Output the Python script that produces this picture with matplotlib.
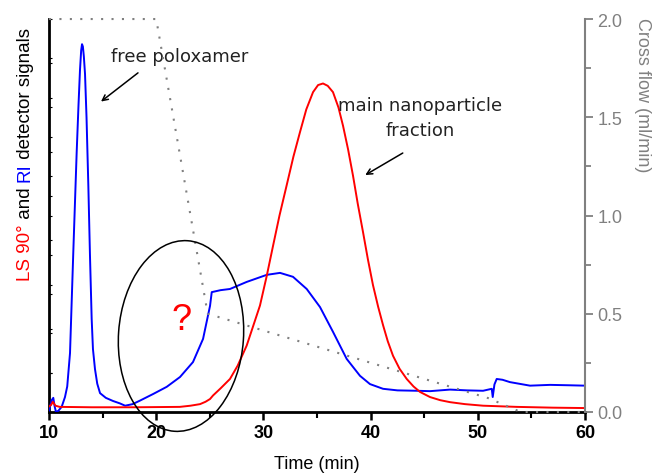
import matplotlib
matplotlib.use("Agg")
import matplotlib.pyplot as plt
from matplotlib.patches import Ellipse
from matplotlib.ticker import MultipleLocator, FixedLocator
import numpy as np

# RI signal (blue), arbitrary units
ri_t = [10.0, 10.09, 10.25, 10.40, 10.52, 10.65, 10.87, 11.18, 11.49, 11.70, 11.96, 12.27, 12.58,
        12.75, 12.89, 13.0, 13.08, 13.16, 13.25, 13.36, 13.5, 13.67, 13.82, 13.98, 14.1, 14.29,
        14.5, 14.76, 15.3, 15.97, 16.6, 17.1, 17.8, 18.49, 19.73, 20.98, 22.22, 23.43, 24.37,
        25.02, 25.18, 26.0, 26.88, 28.44, 30.31, 31.55, 32.76, 34.04, 35.28, 36.49, 37.77, 39.01,
        39.94, 41.16, 42.5, 44.30, 45.54, 47.41, 49.0, 50.49, 51.30, 51.39, 51.55, 51.76, 52.3,
        53.0, 54.87, 56.74, 58.5, 60.0]
ri_v = [0.004, 0.013, 0.030, 0.036, 0.015, 0.0, 0.003, 0.013, 0.038, 0.065, 0.15, 0.41, 0.66,
        0.78, 0.87, 0.92, 0.936, 0.93, 0.905, 0.86, 0.75, 0.575, 0.40, 0.237, 0.16, 0.109,
        0.072, 0.048, 0.036, 0.028, 0.022, 0.016, 0.020, 0.029, 0.046, 0.064, 0.089, 0.127, 0.186,
        0.270, 0.305, 0.310, 0.313, 0.331, 0.349, 0.354, 0.344, 0.313, 0.267, 0.204, 0.135, 0.092,
        0.071, 0.059, 0.055, 0.054, 0.053, 0.057, 0.055, 0.054, 0.059, 0.038, 0.070, 0.084, 0.082,
        0.076, 0.067, 0.069, 0.068, 0.067]

# LS 90 signal (red), arbitrary units
ls_t = [10.0, 10.2, 10.35, 10.6, 11.0, 14.0, 18.0, 22.2, 23.2, 24.09, 24.6, 25.02, 25.30, 26.0,
        26.88, 27.6, 28.44, 29.0, 29.68, 30.30, 30.90, 31.5, 32.17, 32.8, 33.41, 34.0, 34.63, 35.1,
        35.56, 36.0, 36.49, 37.0, 37.43, 37.9, 38.36, 38.8, 39.29, 39.75, 40.22, 40.7, 41.16, 41.6,
        42.09, 42.7, 43.37, 44.0, 44.61, 45.54, 46.5, 47.41, 48.8, 50.49, 53.63, 57.0, 60.0]
ls_v = [0.014, 0.018, 0.026, 0.016, 0.013, 0.012, 0.012, 0.013, 0.016, 0.020, 0.026, 0.033, 0.042, 0.060,
        0.084, 0.118, 0.169, 0.215, 0.271, 0.345, 0.423, 0.500, 0.577, 0.650, 0.712, 0.770, 0.814, 0.832,
        0.836, 0.830, 0.814, 0.775, 0.728, 0.668, 0.601, 0.530, 0.458, 0.388, 0.323, 0.268, 0.221, 0.180,
        0.143, 0.110, 0.084, 0.065, 0.051, 0.038, 0.030, 0.025, 0.020, 0.016, 0.013, 0.011, 0.010]

# cross flow program (ml/min)
cf_t = [10, 20, 24.8, 51.0, 54.0, 60]
cf_v = [2.0, 2.0, 0.5, 0.07, 0.0, 0.0]

label_parts = ["LS 90°", " and ", "RI", " detector signals"]
label_colors = ["#ff0000", "black", "#0000ff", "black"]

fig = plt.figure(figsize=(6.56, 4.77), dpi=100)
ax = fig.add_axes([0.0747, 0.1342, 0.8171, 0.8238])
ax2 = ax.twinx()

ax.plot(ri_t, ri_v, color="#0000ff", lw=1.4, zorder=3)
ax.plot(ls_t, ls_v, color="#ff0000", lw=1.4, zorder=3)
ax2.plot(cf_t, cf_v, color="#808080", lw=1.5, ls=(0, (1, 4)), clip_on=False)

ax.set_xlim(10, 60)
ax.set_ylim(0, 1)
ax2.set_ylim(0, 2)

# spines
for a in (ax, ax2):
    a.spines["top"].set_visible(False)
ax.spines["right"].set_visible(False)
ax2.spines["left"].set_visible(False)
ax2.spines["bottom"].set_visible(False)
ax.spines["left"].set_linewidth(2)
ax.spines["bottom"].set_linewidth(2)
ax2.spines["right"].set_color("#808080")
ax2.spines["right"].set_linewidth(1.5)

# x ticks
ax.xaxis.set_major_locator(MultipleLocator(10))
ax.xaxis.set_minor_locator(MultipleLocator(5))
ax.tick_params(axis="x", which="major", direction="out", length=6, width=1.8, pad=3)
ax.tick_params(axis="x", which="minor", direction="out", length=4, width=1.5)
for lab in ax.get_xticklabels():
    lab.set_fontfamily("Liberation Sans")
    lab.set_fontweight("bold")
    lab.set_fontsize(13)

# left ticks, no labels
ax.yaxis.set_major_locator(MultipleLocator(0.1))
ax.yaxis.set_minor_locator(FixedLocator(np.arange(0.099, 1.0, 0.1127)))
ax.tick_params(axis="y", which="both", direction="in", length=2, width=0.8, labelleft=False)

# right ticks
ax2.yaxis.set_minor_locator(MultipleLocator(0.25))
ax2.tick_params(axis="y", which="major", direction="out", length=6, width=1.3,
                colors="#808080", pad=3)
ax2.tick_params(axis="y", which="minor", direction="out", length=4, width=1.3, colors="#808080")
ax2.set_yticks([0, 0.5, 1.0, 1.5, 2.0])
ax2.set_yticklabels(["0.0", "0.5", "1.0", "1.5", "2.0"], family="Liberation Sans",
                    color="#808080", fontsize=13)

ax.set_xlabel("Time (min)", family="Liberation Sans", fontsize=13, labelpad=10)
fig.text(643 / 656, 1 - 95 / 477, "Cross flow (ml/min)", rotation=-90, ha="center", va="center",
         color="#808080", family="Liberation Sans", fontsize=13)

# multi-coloured left label, each piece stacked on top of the previous one
prev = fig.text(25 / 656, 1 - 281 / 477, label_parts[0], rotation=90, ha="center", va="bottom",
                color=label_colors[0], family="Liberation Sans", fontsize=13.5)
for txt, col in zip(label_parts[1:], label_colors[1:]):
    prev = ax.annotate(txt, xy=(0.5, 1.0), xycoords=prev, ha="center", va="bottom",
                       rotation=90, color=col, family="Liberation Sans", fontsize=13.5,
                       annotation_clip=False)

# annotations
ax.text(22.2, 0.906, "free poloxamer", ha="center", va="center", fontsize=13,
        family="DejaVu Sans", color="#222222")
ax.annotate("", xy=(14.85, 0.79), xytext=(18.3, 0.863),
            arrowprops=dict(arrowstyle="->", color="black", lw=1.1, shrinkA=0, shrinkB=0))
ax.text(44.6, 0.75, "main nanoparticle\nfraction", ha="center", va="center", fontsize=13,
        family="DejaVu Sans", color="#222222", linespacing=1.5)
ax.annotate("", xy=(39.5, 0.603), xytext=(43.0, 0.659),
            arrowprops=dict(arrowstyle="->", color="black", lw=1.1, shrinkA=0, shrinkB=0))
ax.text(22.4, 0.235, "?", color="#ff0000", fontsize=26, family="Liberation Sans",
        ha="center", va="center")

el = Ellipse((1.81, 1.40), 1.25, 1.91, angle=-4, transform=fig.dpi_scale_trans,
             fill=False, edgecolor="black", lw=1.1, clip_on=False)
fig.patches.append(el)

fig.savefig("out.png", dpi=100)
